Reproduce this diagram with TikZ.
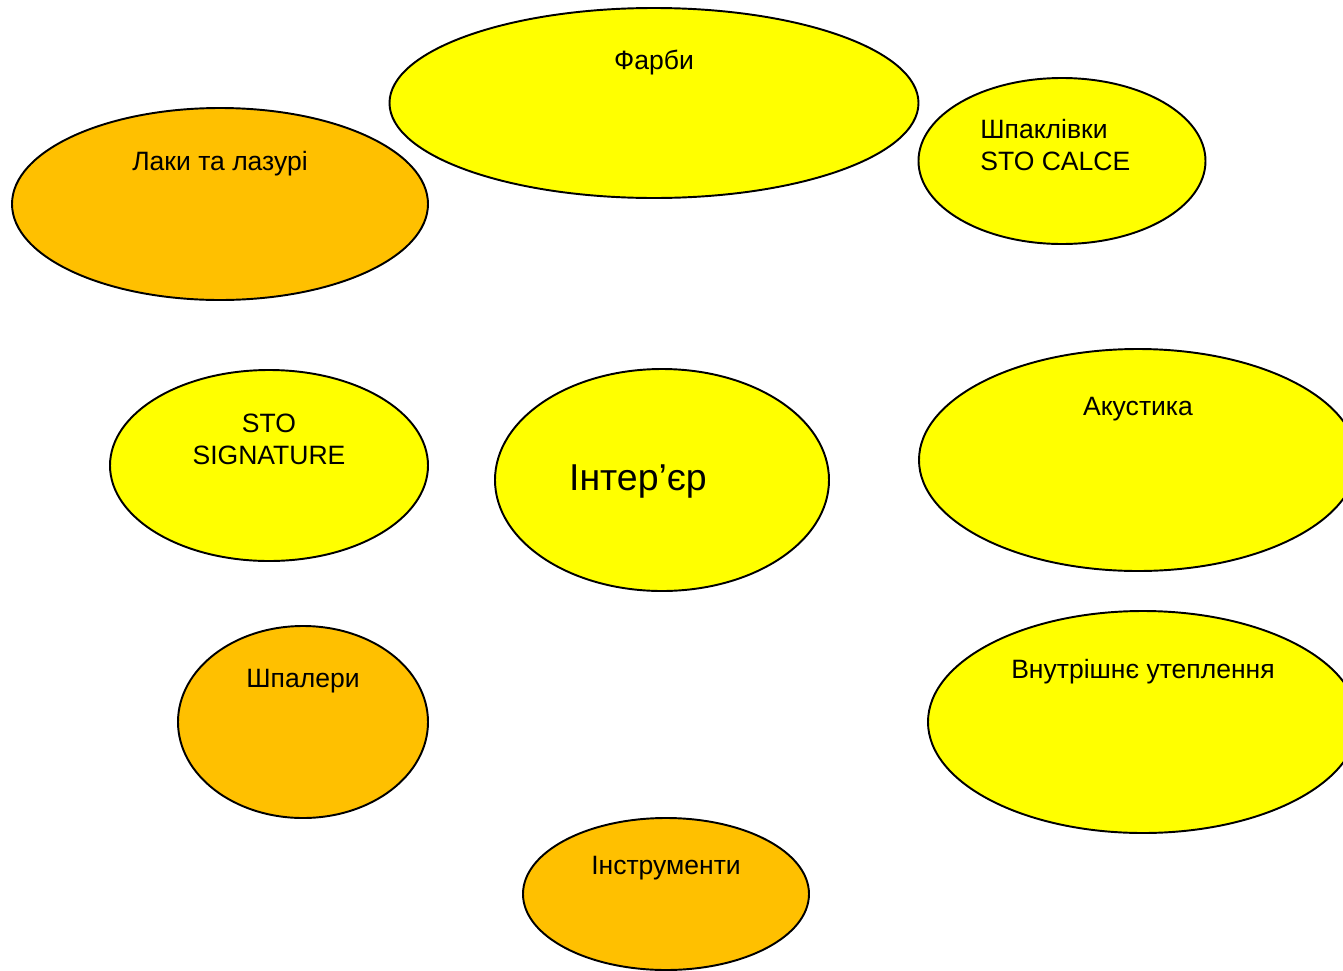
\documentclass[tikz,border=0pt]{standalone}
\usepackage{fontspec}
\setmainfont{Liberation Sans}
\usetikzlibrary{shapes.geometric}

\definecolor{bubyellow}{HTML}{FFFF00}
\definecolor{buborange}{HTML}{FFC000}

\tikzset{
	bubble/.style={ellipse,draw=black,line width=1.1pt,inner sep=0pt},
	yel/.style={bubble,fill=bubyellow},
	org/.style={bubble,fill=buborange},
	lbl/.style={font=\fontsize{15.1}{18.2}\selectfont,inner sep=0pt}
}

\begin{document}
\begin{tikzpicture}
	\clip (0,0) rectangle (26.86,-19.42);
	% bubbles
	\node (farby) [yel,minimum width=10.58cm,minimum height=3.8cm] at (13.08,-2.06) {};
	\node (laky) [org,minimum width=8.32cm,minimum height=3.84cm] at (4.40,-4.08) {};
	\node (shpak) [yel,minimum width=5.74cm,minimum height=3.32cm] at (21.24,-3.22) {};
	\node (sign) [yel,minimum width=6.36cm,minimum height=3.82cm] at (5.38,-9.31) {};
	\node (inter) [yel,minimum width=6.68cm,minimum height=4.44cm] at (13.24,-9.6) {};
	\node (akust) [yel,minimum width=8.76cm,minimum height=4.44cm] at (22.76,-9.2) {};
	\node (shpal) [org,minimum width=5.0cm,minimum height=3.84cm] at (6.06,-14.44) {};
	\node (utepl) [yel,minimum width=8.6cm,minimum height=4.44cm] at (22.86,-14.44) {};
	\node (instr) [org,minimum width=5.72cm,minimum height=3.04cm] at (13.32,-17.88) {};
	% labels
	\node (tfarby) [lbl] at (13.08,-1.25) {Фарби};
	\node (tlaky) [lbl] at (4.40,-3.27) {Лаки та лазурі};
	\node (tshpak) [lbl,align=left,anchor=west] at (19.6,-2.91) {Шпаклівки\\STO CALCE};
	\node (tsign) [lbl,align=center] at (5.38,-8.78) {STO\\SIGNATURE};
	\node (tinter) [lbl,font=\fontsize{21.3}{26}\selectfont] at (12.76,-9.64) {Інтер’єр};
	\node (takust) [lbl] at (22.76,-8.19) {Акустика};
	\node (tshpal) [lbl] at (6.06,-13.63) {Шпалери};
	\node (tutepl) [lbl] at (22.86,-13.43) {Внутрішнє утеплення};
	\node (tinstr) [lbl] at (13.32,-17.37) {Інструменти};
\end{tikzpicture}
\end{document}
